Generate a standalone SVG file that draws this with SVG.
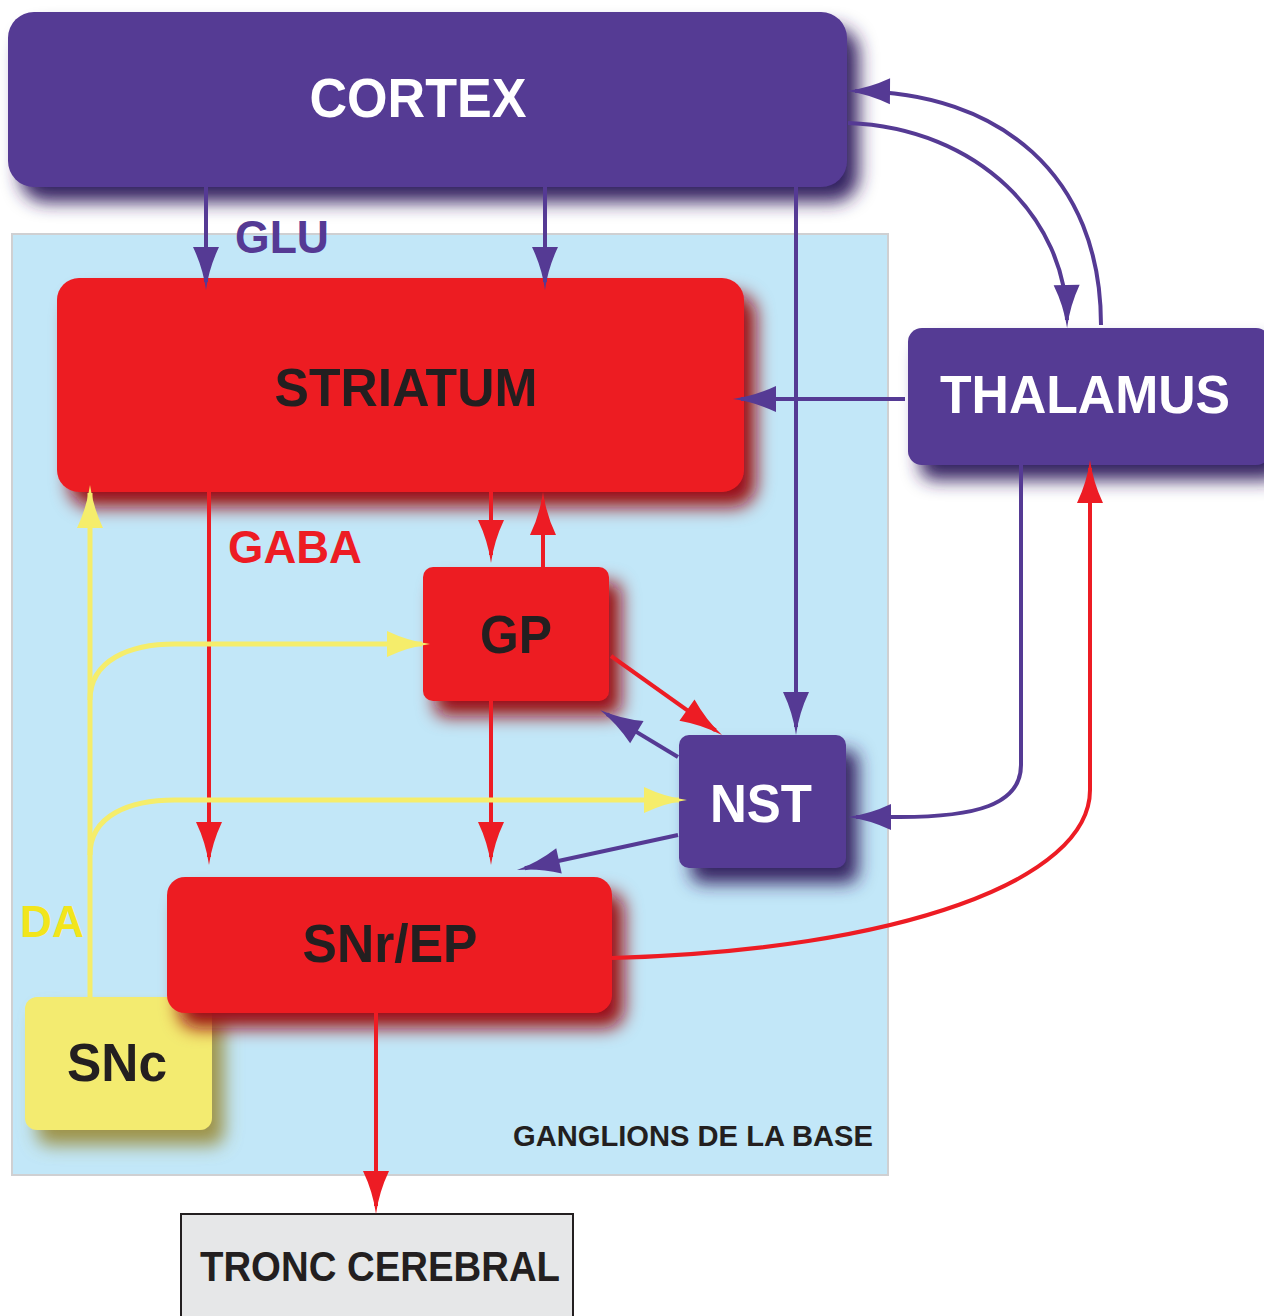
<svg xmlns="http://www.w3.org/2000/svg" width="1264" height="1316" viewBox="0 0 1264 1316">
<defs>
<style>
.lbl{font-family:"Liberation Sans",Arial,sans-serif;font-weight:bold;}
.w{fill:#ffffff;}
.d{fill:#231f20;}
.pu{fill:#553a94;}
.re{fill:#ed1c24;}
.ln{fill:none;stroke-linecap:butt;stroke-linejoin:round;}
.lp{stroke:#553a94;stroke-width:4;}
.lr{stroke:#ed1c24;stroke-width:4;}
.ly{stroke:#f5ed6b;stroke-width:5;}
</style>
<filter id="sh" x="-20%" y="-20%" width="150%" height="160%">
<feGaussianBlur in="SourceGraphic" stdDeviation="9" result="b"/>
<feOffset in="b" dx="12" dy="15" result="o"/>
<feColorMatrix in="o" type="matrix" values="0.38 0 0 0 0 0 0.35 0 0 0 0 0 0.4 0 0 0 0 0 1 0" result="d"/>
<feMerge><feMergeNode in="d"/><feMergeNode in="SourceGraphic"/></feMerge>
</filter>
<marker id="ap" markerUnits="userSpaceOnUse" viewBox="-44 -14 48 28" refX="-8" refY="0" markerWidth="48" markerHeight="28" orient="auto" overflow="visible">
<path d="M0,0 Q-22,-3 -43,-13 L-43,13 Q-22,3 0,0 Z" fill="#553a94"/>
</marker>
<marker id="ar" markerUnits="userSpaceOnUse" viewBox="-44 -14 48 28" refX="-8" refY="0" markerWidth="48" markerHeight="28" orient="auto" overflow="visible">
<path d="M0,0 Q-22,-3 -43,-13 L-43,13 Q-22,3 0,0 Z" fill="#ed1c24"/>
</marker>
<marker id="ay" markerUnits="userSpaceOnUse" viewBox="-44 -14 48 28" refX="-8" refY="0" markerWidth="48" markerHeight="28" orient="auto" overflow="visible">
<path d="M0,0 Q-22,-3 -43,-13 L-43,13 Q-22,3 0,0 Z" fill="#f5ed6b"/>
</marker>
</defs>
<rect width="1264" height="1316" fill="#ffffff"/>

<g id="ganglions">
<rect x="12" y="234" width="876" height="941" fill="#c2e7f8" stroke="#cfd0d2" stroke-width="2"/>
<text class="lbl d" x="513" y="1146" font-size="29" textLength="360" lengthAdjust="spacingAndGlyphs">GANGLIONS DE LA BASE</text>
</g>

<g id="cortex">
<rect x="8" y="12" width="839" height="175" rx="26" fill="#553a94" filter="url(#sh)"/>
<text class="lbl w" x="418" y="117" font-size="56" text-anchor="middle" textLength="217" lengthAdjust="spacingAndGlyphs">CORTEX</text>
</g>

<g id="thalamus">
<rect x="908" y="328" width="362" height="137" rx="14" fill="#553a94" filter="url(#sh)"/>
<text class="lbl w" x="1085" y="413" font-size="53" text-anchor="middle" textLength="290" lengthAdjust="spacingAndGlyphs">THALAMUS</text>
</g>

<g id="striatum">
<rect x="57" y="278" width="687" height="214" rx="22" fill="#ed1c24" filter="url(#sh)"/>
<text class="lbl d" x="406" y="406" font-size="54" text-anchor="middle" textLength="263" lengthAdjust="spacingAndGlyphs">STRIATUM</text>
</g>

<g id="gp">
<rect x="423" y="567" width="186" height="134" rx="10" fill="#ed1c24" filter="url(#sh)"/>
<text class="lbl d" x="516" y="653" font-size="54" text-anchor="middle" textLength="72" lengthAdjust="spacingAndGlyphs">GP</text>
</g>

<g id="nst">
<rect x="679" y="735" width="167" height="133" rx="10" fill="#553a94" filter="url(#sh)"/>
<text class="lbl w" x="761" y="822" font-size="54" text-anchor="middle" textLength="102" lengthAdjust="spacingAndGlyphs">NST</text>
</g>

<g id="snc">
<rect x="25" y="997" width="187" height="133" rx="12" fill="#f3eb6f" filter="url(#sh)"/>
<text class="lbl d" x="117" y="1081" font-size="54" text-anchor="middle" textLength="100" lengthAdjust="spacingAndGlyphs">SNc</text>
</g>

<g id="snr-ep">
<rect x="167" y="877" width="445" height="136" rx="18" fill="#ed1c24" filter="url(#sh)"/>
<text class="lbl d" x="390" y="962" font-size="54" text-anchor="middle" textLength="175" lengthAdjust="spacingAndGlyphs">SNr/EP</text>
</g>

<g id="tronc">
<rect x="181" y="1214" width="392" height="110" fill="#e6e7e8" stroke="#231f20" stroke-width="2"/>
<text class="lbl d" x="380" y="1281" font-size="42" text-anchor="middle" textLength="360" lengthAdjust="spacingAndGlyphs">TRONC CEREBRAL</text>
</g>

<g id="connectors">
<path class="ln lp" d="M206,187 L206,282" marker-end="url(#ap)"/>
<path class="ln lp" d="M545,187 L545,282" marker-end="url(#ap)"/>
<path class="ln lp" d="M796,187 L796,727" marker-end="url(#ap)"/>
<path class="ln lp" d="M848,123 C980,128 1066,220 1067,320" marker-end="url(#ap)"/>
<path class="ln lp" d="M1101,325 C1101,175 1000,92 855,91" marker-end="url(#ap)"/>
<path class="ln lp" d="M905,399 L741,399" marker-end="url(#ap)"/>
<path class="ln lp" d="M1021,465 L1021,765 C1021,805 975,817 900,817 L856,817" marker-end="url(#ap)"/>
<path class="ln lp" d="M678,757 L606.9,714.1" marker-end="url(#ap)"/>
<path class="ln lp" d="M678,835 L524.8,868.3" marker-end="url(#ap)"/>

<path class="ln lr" d="M209,492 L209,857" marker-end="url(#ar)"/>
<path class="ln lr" d="M491,492 L491,555" marker-end="url(#ar)"/>
<path class="ln lr" d="M543,567 L543,500" marker-end="url(#ar)"/>
<path class="ln lr" d="M491,701 L491,857" marker-end="url(#ar)"/>
<path class="ln lr" d="M611,656 L715.5,730.4" marker-end="url(#ar)"/>
<path class="ln lr" d="M612,958 C900,950 1090,880 1090,790 L1090,468" marker-end="url(#ar)"/>
<path class="ln lr" d="M376,1013 L376,1206" marker-end="url(#ar)"/>

<path class="ln ly" d="M90,997 L90,493" marker-end="url(#ay)"/>
<path class="ln ly" d="M90,700 C90,660 130,644 175,644 L422,644" marker-end="url(#ay)"/>
<path class="ln ly" d="M90,855 C90,815 130,800 175,800 L679,800" marker-end="url(#ay)"/>

<text class="lbl pu" x="235" y="253" font-size="47" textLength="94" lengthAdjust="spacingAndGlyphs">GLU</text>
<text class="lbl re" x="228" y="563" font-size="46" textLength="134" lengthAdjust="spacingAndGlyphs">GABA</text>
<text class="lbl" fill="#f2e51c" x="20" y="937" font-size="44" textLength="64" lengthAdjust="spacingAndGlyphs">DA</text>
</g>
</svg>
